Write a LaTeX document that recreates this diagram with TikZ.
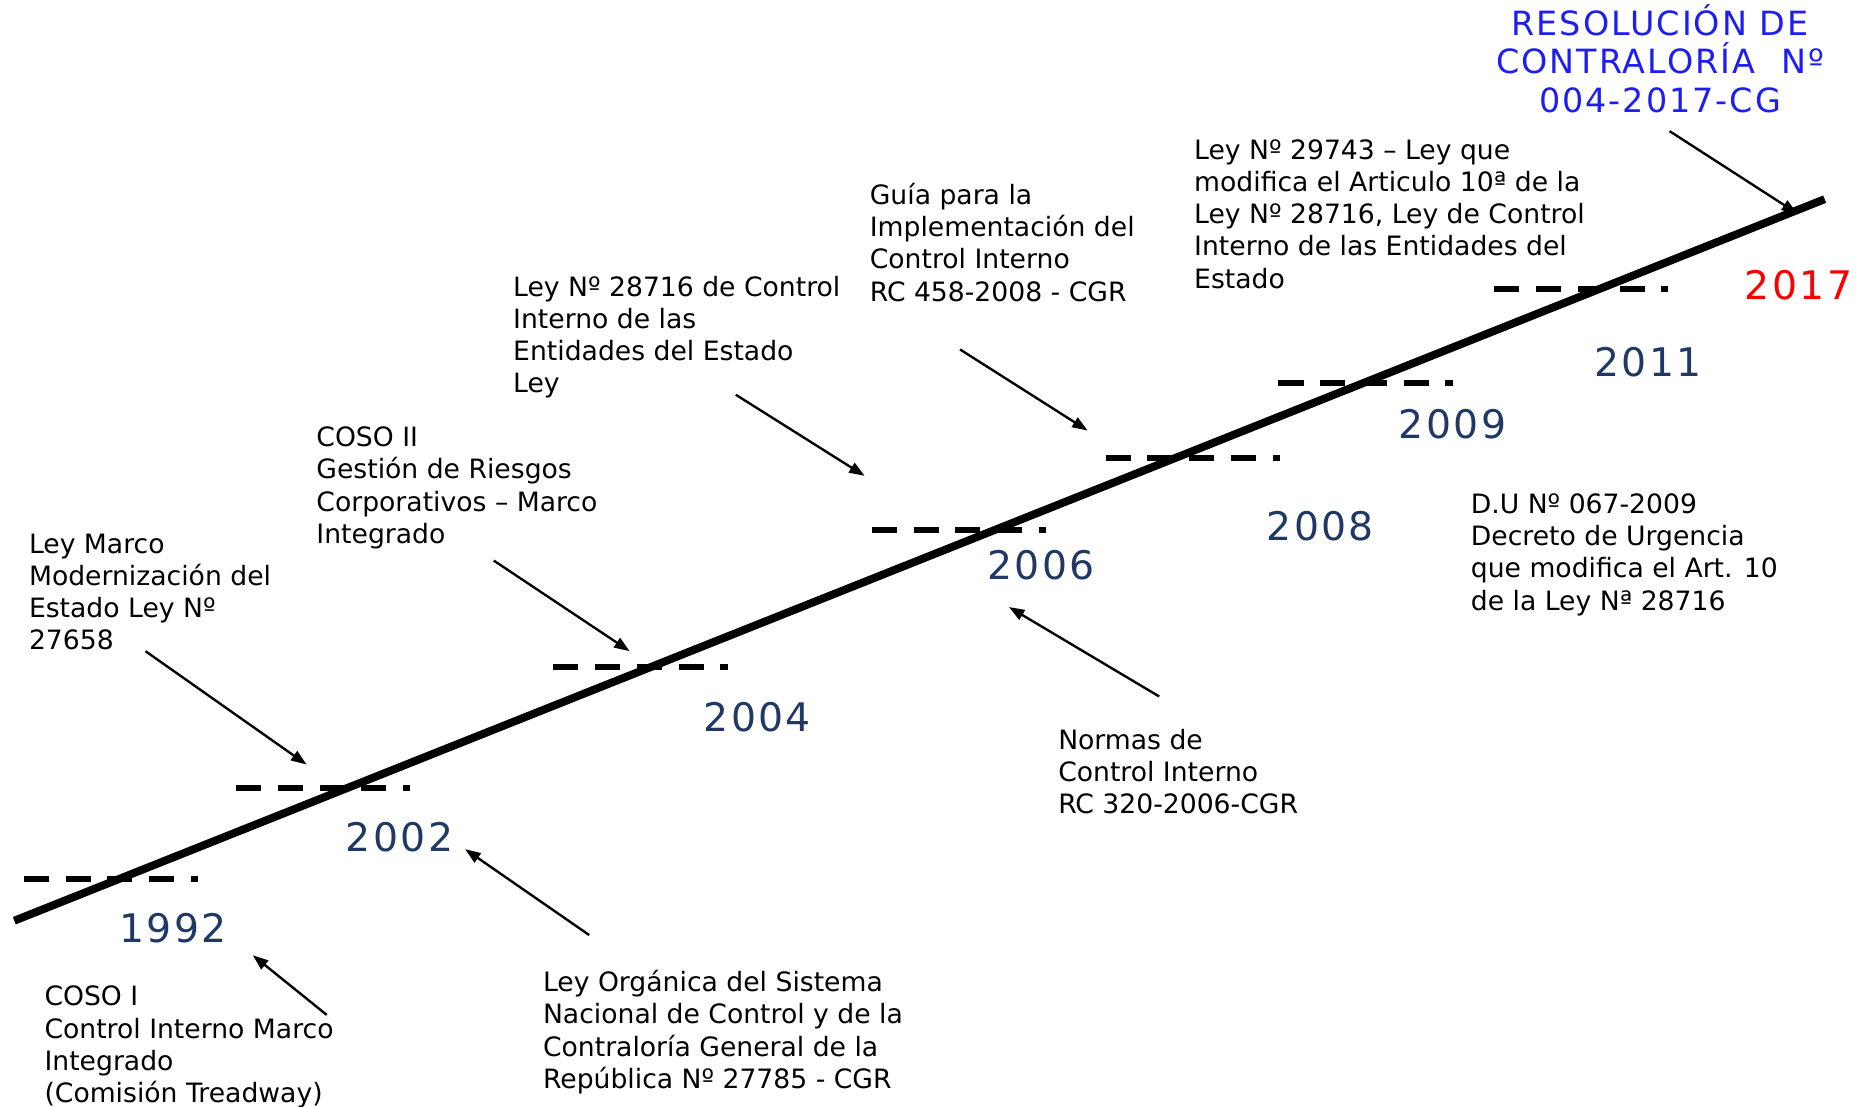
\documentclass[tikz,border=0pt]{standalone}
\usepackage{fontspec}
\setmainfont{DejaVu Sans}
\newfontfamily\aniofont[LetterSpace=6]{DejaVu Sans}
\newfontfamily\titulofont[LetterSpace=6]{DejaVu Sans}
\usetikzlibrary{arrows.meta}
\definecolor{anioazul}{RGB}{31,56,100}
\definecolor{tituloazul}{RGB}{30,30,240}
\definecolor{rojo}{RGB}{250,0,0}

\begin{document}
\begin{tikzpicture}[x=0.6pt,y=-0.6pt,
  >={Triangle[length=7.8pt,width=5.6pt]},
  txt/.style={anchor=base west,align=left,inner sep=0pt,font=\fontsize{13.4}{16.2}\selectfont},
  anio/.style={anchor=base,inner sep=0pt,text=anioazul,font=\aniofont\fontsize{19.8}{24}\selectfont},
  marca/.style={line width=3pt,dash pattern=on 12.6pt off 8.4pt},
  flecha/.style={->,line width=1.2pt}]
\useasboundingbox (0,0) rectangle (1568,928);
% linea de tiempo
\coordinate (ini) at (12,772);
\coordinate (fin) at (1530,167);
\draw[line width=4pt](ini)--(fin);
\foreach \x/\y in {20/737,198/661,464/559,731/444,927/384,1072/321,1253/242}
  \draw[marca](\x,\y)--++(146,0);
% anios (ancla en la linea base)
\node[anio] (a1992) at (145,790) {1992};
\node[anio] (a2002) at (335,714) {2002};
\node[anio] (a2004) at (635,613) {2004};
\node[anio] (a2006) at (873,486) {2006};
\node[anio] (a2008) at (1107,453) {2008};
\node[anio] (a2009) at (1218,368) {2009};
\node[anio] (a2011) at (1382,316) {2011};
\node[anio,text=rojo] (a2017) at (1508,251) {2017};
% textos (ancla en la linea base de la ultima fila)
\node[txt] (marco) at (24,545) {Ley Marco\\Modernización del\\Estado Ley Nº\\27658};
\node[txt] (coso1) at (37,924.5) {COSO I\\Control Interno Marco\\Integrado\\(Comisión Treadway)};
\node[txt] (coso2) at (265,455.5) {COSO II\\Gestión de Riesgos\\Corporativos – Marco\\Integrado};
\node[txt] (organica) at (455,912.5) {Ley Orgánica del Sistema\\Nacional de Control y de la\\Contraloría General de la\\República Nº 27785 - CGR};
\node[txt] (ley28716) at (430,329.5) {Ley Nº 28716 de Control\\Interno de las\\Entidades del Estado\\Ley};
\node[txt] (normas) at (887,682.5) {Normas de\\Control Interno\\RC 320-2006-CGR};
\node[txt] (guia) at (729,252.5) {Guía para la\\Implementación del\\Control Interno\\RC 458-2008 - CGR};
\node[txt] (ley29743) at (1001,241.5) {Ley Nº 29743 – Ley que\\modifica el Articulo 10ª de la\\Ley Nº 28716, Ley de Control\\Interno de las Entidades del\\Estado};
\node[txt] (du) at (1233,511.5) {D.U Nº 067-2009\\Decreto de Urgencia\\que modifica el Art. 10\\de la Ley Nª 28716};
\node[anchor=base,align=center,inner sep=0pt,text=tituloazul,font=\titulofont\fontsize{16.8}{19.2}\selectfont] (resol) at (1392,94) {RESOLUCIÓN DE\\CONTRALORÍA\hspace{0.4em} Nº\\004-2017-CG};
% flechas
\coordinate (c1) at (274,851); \coordinate (p1) at (212,801);
\coordinate (c2) at (122,546); \coordinate (p2) at (257,641);
\coordinate (c3) at (494,784); \coordinate (p3) at (390,712);
\coordinate (c4) at (414,470); \coordinate (p4) at (528,546);
\coordinate (c5) at (617,331); \coordinate (p5) at (725,399);
\coordinate (c6) at (972,584); \coordinate (p6) at (846,509);
\coordinate (c7) at (805,293); \coordinate (p7) at (912,361);
\coordinate (c8) at (1400,110); \coordinate (p8) at (1507,179);
\foreach \i in {1,...,8}
  \draw[flecha](c\i)--(p\i);
\end{tikzpicture}
\end{document}
